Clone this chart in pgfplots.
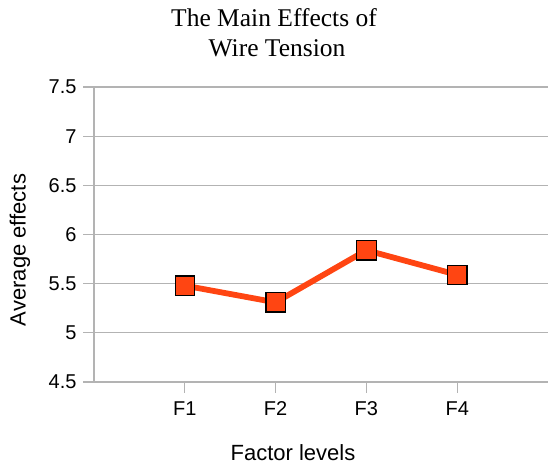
\documentclass[border=0pt]{standalone}
\usepackage{fontspec}
\setmainfont{Liberation Sans}
\newfontfamily\titlefont{Liberation Serif}
\usepackage{pgfplots}
\pgfplotsset{compat=1.18}
\definecolor{lineorange}{HTML}{FF4512}
\definecolor{gridgray}{HTML}{B3B3B3}
\begin{document}
\begin{tikzpicture}
\useasboundingbox (0,0) rectangle (548bp,465bp);
\begin{axis}[
  at={(94bp,83bp)}, anchor=south west,
  scale only axis, width=454bp, height=295bp,
  xmin=0, xmax=5, ymin=4.5, ymax=7.5,
  xtick={1,2,3,4}, xticklabels={F1,F2,F3,F4},
  ytick={4.5,5,5.5,6,6.5,7,7.5},
  yticklabels={4.5,5,5.5,6,6.5,7,7.5},
  axis lines=left, axis line style={-, gridgray, line width=1.3bp},
  ymajorgrids, grid style={gridgray, line width=1.3bp},
  tick align=outside, major tick length=11bp,
  tick style={gridgray, line width=1.3bp},
  tick label style={font=\fontsize{20bp}{23bp}\selectfont, text=black},
  yticklabel style={xshift=-3bp},
  xticklabel style={yshift=-5bp},
  clip=false,
]
\addplot[lineorange, line width=5.8bp, mark=square*, mark size=9.7bp,
  mark options={fill=lineorange, draw=black, line width=1.2bp}]
  coordinates {(1,5.48) (2,5.31) (3,5.84) (4,5.59)};
\end{axis}
\node[anchor=base, font=\titlefont\fontsize{25.5bp}{30bp}\selectfont] at (274bp,438bp) {The Main Effects of};
\node[anchor=base, font=\titlefont\fontsize{25.5bp}{30bp}\selectfont] at (277bp,408bp) {Wire Tension};
\node[font=\fontsize{22bp}{26bp}\selectfont] at (293bp,12bp) {Factor levels};
\node[rotate=90, font=\fontsize{22bp}{26bp}\selectfont] at (20bp,215bp) {Average effects};
\end{tikzpicture}
\end{document}
